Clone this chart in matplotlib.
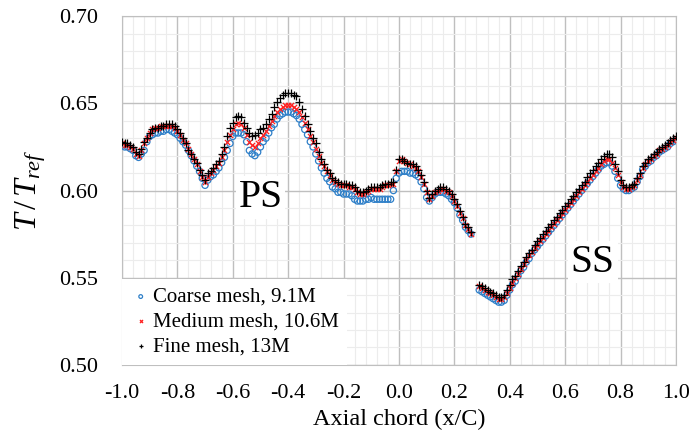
import matplotlib
matplotlib.use("Agg")
import matplotlib.pyplot as plt
from matplotlib.ticker import MultipleLocator

# pressure side (PS) points, x/C from -1.00 to 0.26
x_ps = [-1.00, -0.99, -0.98, -0.97, -0.96, -0.95, -0.94, -0.93, -0.92, -0.91,
        -0.90, -0.89, -0.88, -0.87, -0.86, -0.85, -0.84, -0.83, -0.82, -0.81,
        -0.80, -0.79, -0.78, -0.77, -0.76, -0.75, -0.74, -0.73, -0.72, -0.71,
        -0.70, -0.69, -0.68, -0.67, -0.66, -0.65, -0.64, -0.63, -0.62, -0.61,
        -0.60, -0.59, -0.58, -0.57, -0.56, -0.55, -0.54, -0.53, -0.52, -0.51,
        -0.50, -0.49, -0.48, -0.47, -0.46, -0.45, -0.44, -0.43, -0.42, -0.41,
        -0.40, -0.39, -0.38, -0.37, -0.36, -0.35, -0.34, -0.33, -0.32, -0.31,
        -0.30, -0.29, -0.28, -0.27, -0.26, -0.25, -0.24, -0.23, -0.22, -0.21,
        -0.20, -0.19, -0.18, -0.17, -0.16, -0.15, -0.14, -0.13, -0.12, -0.11,
        -0.10, -0.09, -0.08, -0.07, -0.06, -0.05, -0.04, -0.03, -0.02, -0.01,
        0.00, 0.01, 0.02, 0.03, 0.04, 0.05, 0.06, 0.07, 0.08, 0.09,
        0.10, 0.11, 0.12, 0.13, 0.14, 0.15, 0.16, 0.17, 0.18, 0.19,
        0.20, 0.21, 0.22, 0.23, 0.24, 0.25, 0.26]

coarse_ps = [0.626, 0.625, 0.625, 0.624, 0.623, 0.620, 0.619, 0.621, 0.623, 0.628,
             0.631, 0.632, 0.633, 0.633, 0.634, 0.634, 0.635, 0.635, 0.634, 0.633,
             0.632, 0.630, 0.628, 0.626, 0.623, 0.620, 0.617, 0.614, 0.611, 0.607,
             0.603, 0.606, 0.608, 0.609, 0.611, 0.613, 0.616, 0.619, 0.623, 0.627,
             0.631, 0.633, 0.633, 0.633, 0.632, 0.628, 0.623, 0.621, 0.620, 0.622,
             0.625, 0.628, 0.630, 0.633, 0.636, 0.638, 0.641, 0.643, 0.644, 0.645,
             0.645, 0.645, 0.644, 0.643, 0.641, 0.638, 0.635, 0.632, 0.628, 0.625,
             0.621, 0.617, 0.613, 0.610, 0.607, 0.605, 0.602, 0.601, 0.599, 0.599,
             0.598, 0.598, 0.598, 0.597, 0.595, 0.594, 0.594, 0.594, 0.595, 0.595,
             0.596, 0.595, 0.595, 0.595, 0.595, 0.595, 0.595, 0.595, 0.600, 0.607,
             0.610, 0.611, 0.611, 0.611, 0.610, 0.610, 0.609, 0.608, 0.605, 0.601,
             0.596, 0.594, 0.596, 0.598, 0.599, 0.599, 0.599, 0.598, 0.597, 0.595,
             0.593, 0.590, 0.586, 0.583, 0.579, 0.577, 0.575]

medium_ps = [0.627, 0.626, 0.626, 0.625, 0.624, 0.621, 0.620, 0.623, 0.627, 0.630,
             0.633, 0.635, 0.636, 0.636, 0.637, 0.637, 0.637, 0.637, 0.637, 0.636,
             0.634, 0.632, 0.629, 0.627, 0.624, 0.621, 0.618, 0.615, 0.611, 0.608,
             0.605, 0.608, 0.610, 0.612, 0.614, 0.616, 0.619, 0.623, 0.628, 0.632,
             0.635, 0.638, 0.639, 0.638, 0.636, 0.632, 0.628, 0.626, 0.625, 0.627,
             0.630, 0.632, 0.634, 0.637, 0.640, 0.643, 0.645, 0.647, 0.648, 0.649,
             0.649, 0.649, 0.648, 0.647, 0.645, 0.642, 0.639, 0.635, 0.631, 0.628,
             0.624, 0.620, 0.616, 0.614, 0.611, 0.609, 0.606, 0.605, 0.604, 0.603,
             0.603, 0.603, 0.602, 0.602, 0.601, 0.599, 0.598, 0.598, 0.599, 0.600,
             0.601, 0.601, 0.601, 0.601, 0.602, 0.603, 0.603, 0.604, 0.604, 0.611,
             0.617, 0.618, 0.617, 0.616, 0.615, 0.614, 0.613, 0.611, 0.608, 0.604,
             0.599, 0.595, 0.597, 0.599, 0.600, 0.601, 0.601, 0.600, 0.599, 0.597,
             0.594, 0.591, 0.587, 0.584, 0.580, 0.578, 0.575]

fine_ps = [0.628, 0.627, 0.627, 0.626, 0.625, 0.622, 0.621, 0.624, 0.628, 0.630,
           0.633, 0.635, 0.636, 0.636, 0.637, 0.637, 0.638, 0.638, 0.638, 0.637,
           0.635, 0.633, 0.630, 0.627, 0.623, 0.621, 0.618, 0.616, 0.612, 0.609,
           0.606, 0.610, 0.611, 0.613, 0.615, 0.617, 0.621, 0.625, 0.631, 0.636,
           0.639, 0.642, 0.643, 0.642, 0.639, 0.636, 0.633, 0.631, 0.632, 0.633,
           0.635, 0.636, 0.638, 0.641, 0.644, 0.648, 0.651, 0.653, 0.655, 0.656,
           0.656, 0.656, 0.655, 0.654, 0.651, 0.647, 0.643, 0.638, 0.634, 0.630,
           0.627, 0.622, 0.618, 0.615, 0.612, 0.610, 0.607, 0.606, 0.605, 0.604,
           0.604, 0.604, 0.603, 0.603, 0.602, 0.600, 0.599, 0.599, 0.600, 0.601,
           0.602, 0.602, 0.602, 0.602, 0.603, 0.604, 0.604, 0.605, 0.605, 0.612,
           0.618, 0.618, 0.617, 0.616, 0.615, 0.615, 0.614, 0.612, 0.609, 0.605,
           0.600, 0.596, 0.598, 0.600, 0.601, 0.602, 0.602, 0.601, 0.600, 0.598,
           0.595, 0.592, 0.588, 0.585, 0.581, 0.579, 0.576]

# suction side (SS) points, x/C from 0.29 to 1.00
x_ss = [0.29, 0.30, 0.31, 0.32, 0.33, 0.34, 0.35, 0.36, 0.37, 0.38,
        0.39, 0.40, 0.41, 0.42, 0.43, 0.44, 0.45, 0.46, 0.47, 0.48,
        0.49, 0.50, 0.51, 0.52, 0.53, 0.54, 0.55, 0.56, 0.57, 0.58,
        0.59, 0.60, 0.61, 0.62, 0.63, 0.64, 0.65, 0.66, 0.67, 0.68,
        0.69, 0.70, 0.71, 0.72, 0.73, 0.74, 0.75, 0.76, 0.77, 0.78,
        0.79, 0.80, 0.81, 0.82, 0.83, 0.84, 0.85, 0.86, 0.87, 0.88,
        0.89, 0.90, 0.91, 0.92, 0.93, 0.94, 0.95, 0.96, 0.97, 0.98,
        0.99, 1.00]

coarse_ss = [0.543, 0.542, 0.541, 0.540, 0.539, 0.538, 0.537, 0.536, 0.536, 0.537,
             0.540, 0.543, 0.546, 0.548, 0.551, 0.554, 0.556, 0.559, 0.561, 0.564,
             0.566, 0.568, 0.570, 0.572, 0.574, 0.576, 0.578, 0.580, 0.582, 0.584,
             0.586, 0.588, 0.590, 0.592, 0.594, 0.596, 0.598, 0.600, 0.602, 0.604,
             0.606, 0.608, 0.610, 0.612, 0.614, 0.615, 0.616, 0.616, 0.614, 0.611,
             0.607, 0.603, 0.601, 0.600, 0.600, 0.601, 0.602, 0.605, 0.608, 0.612,
             0.614, 0.616, 0.617, 0.619, 0.620, 0.622, 0.623, 0.624, 0.625, 0.627,
             0.628, 0.629]

medium_ss = [0.545, 0.544, 0.543, 0.542, 0.541, 0.540, 0.539, 0.538, 0.538, 0.539,
             0.541, 0.544, 0.547, 0.550, 0.552, 0.555, 0.558, 0.560, 0.563, 0.565,
             0.567, 0.569, 0.571, 0.573, 0.575, 0.577, 0.579, 0.581, 0.583, 0.585,
             0.587, 0.589, 0.591, 0.593, 0.595, 0.597, 0.599, 0.601, 0.603, 0.605,
             0.607, 0.609, 0.611, 0.613, 0.615, 0.617, 0.618, 0.618, 0.616, 0.613,
             0.609, 0.605, 0.602, 0.601, 0.601, 0.602, 0.603, 0.606, 0.609, 0.613,
             0.615, 0.617, 0.618, 0.620, 0.621, 0.623, 0.624, 0.625, 0.626, 0.628,
             0.629, 0.630]

fine_ss = [0.546, 0.545, 0.544, 0.543, 0.542, 0.541, 0.540, 0.539, 0.539, 0.540,
           0.543, 0.546, 0.549, 0.551, 0.554, 0.557, 0.559, 0.562, 0.564, 0.566,
           0.569, 0.571, 0.573, 0.575, 0.577, 0.579, 0.581, 0.583, 0.585, 0.587,
           0.589, 0.591, 0.593, 0.595, 0.597, 0.599, 0.601, 0.603, 0.605, 0.608,
           0.610, 0.612, 0.614, 0.616, 0.618, 0.620, 0.621, 0.621, 0.619, 0.615,
           0.611, 0.606, 0.603, 0.602, 0.602, 0.603, 0.604, 0.607, 0.610, 0.614,
           0.616, 0.618, 0.619, 0.621, 0.622, 0.624, 0.625, 0.626, 0.627, 0.629,
           0.630, 0.631]

labels = ["Coarse mesh, 9.1M", "Medium mesh, 10.6M", "Fine mesh, 13M"]

plt.rcParams["font.family"] = ["Liberation Serif", "DejaVu Serif"]
plt.rcParams["mathtext.fontset"] = "custom"
plt.rcParams["mathtext.rm"] = "Liberation Serif"
plt.rcParams["mathtext.it"] = "Liberation Serif:italic"

fig = plt.figure(figsize=(6.89, 4.36), dpi=100)
ax = fig.add_axes([0.177, 0.163, 0.804, 0.800])

# coarse first so the finer meshes are drawn on top
ax.scatter(x_ps + x_ss, coarse_ps + coarse_ss, marker="o", s=20,
           facecolors="none", edgecolors="#2e7fc8", linewidths=0.9,
           label=labels[0], zorder=3)
ax.scatter(x_ps + x_ss, medium_ps + medium_ss, marker="x", s=14,
           color="#ff2020", linewidths=0.9, label=labels[1], zorder=4)
ax.scatter(x_ps + x_ss, fine_ps + fine_ss, marker="+", s=32,
           color="black", linewidths=0.9, label=labels[2], zorder=5)

ax.set_xlim(-1.0, 1.0)
ax.set_ylim(0.50, 0.70)
ax.xaxis.set_major_locator(MultipleLocator(0.2))
ax.xaxis.set_minor_locator(MultipleLocator(0.04))
ax.yaxis.set_major_locator(MultipleLocator(0.05))
ax.yaxis.set_minor_locator(MultipleLocator(0.01))
ax.set_xticklabels([f"{v:.1f}" for v in ax.get_xticks()])
ax.set_yticklabels([f"{v:.2f}" for v in ax.get_yticks()])

ax.grid(which="major", color="#bfbfbf", linewidth=1.0)
ax.grid(which="minor", color="#ececec", linewidth=0.8)
ax.set_axisbelow(True)
for s in ax.spines.values():
    s.set_color("#bfbfbf")
ax.tick_params(which="both", length=0, labelsize=16)
ax.tick_params(axis="x", pad=14)
ax.tick_params(axis="y", pad=17)

ax.set_xlabel("Axial chord (x/C)", fontsize=17.5, labelpad=4)
ax.set_ylabel(r"$T\,/\,T_{ref}$", fontsize=23, labelpad=8)

ax.text(-0.5, 0.596, "PS", fontsize=28.5, ha="center", va="center", zorder=6,
        bbox=dict(facecolor="white", edgecolor="none", pad=2))
ax.text(0.70, 0.559, "SS", fontsize=28.5, ha="center", va="center", zorder=6,
        bbox=dict(facecolor="white", edgecolor="none", pad=2))

leg = ax.legend(loc="lower left", fontsize=15, frameon=True, fancybox=False,
                edgecolor="none", framealpha=1.0, handlelength=1.0,
                handletextpad=0.1, markerscale=0.6, borderaxespad=0.0,
                labelspacing=0.25, borderpad=0.4)
leg.set_zorder(7)

fig.savefig("out.png", dpi=100)
